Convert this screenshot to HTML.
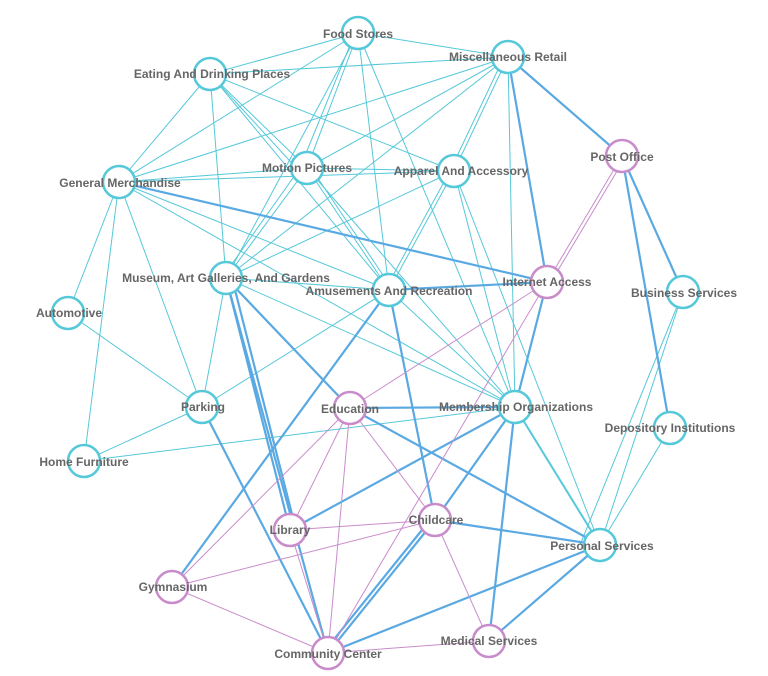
<!DOCTYPE html>
<html><head><meta charset="utf-8"><style>
html,body{margin:0;padding:0;background:#fff;}
svg{display:block;}
text{font-family:"Liberation Sans",sans-serif;font-weight:bold;font-size:12px;fill:#666;text-anchor:middle;}
.c{stroke:#55c8d9;stroke-width:1;}
.b{stroke:#5aa9e2;stroke-width:2.2;}
.p{stroke:#c98ccb;stroke-width:1;}
.nc{fill:#fff;stroke:#55c8d9;stroke-width:2.5;}
.np{fill:#fff;stroke:#c98ccb;stroke-width:2.5;}
</style></head><body>
<svg width="768" height="676" viewBox="0 0 768 676">
<g class="c">
<line x1="358" y1="33" x2="210" y2="74"/><line x1="358" y1="33" x2="508" y2="57"/><line x1="210" y1="74" x2="508" y2="57"/>
<line x1="358" y1="33" x2="119" y2="182"/><line x1="358" y1="33" x2="307" y2="168"/><line x1="355" y1="33" x2="300" y2="168"/>
<line x1="358" y1="33" x2="226" y2="278"/><line x1="358" y1="33" x2="389" y2="290"/><line x1="358" y1="33" x2="515" y2="407"/>
<line x1="210" y1="74" x2="119" y2="182"/><line x1="210" y1="74" x2="226" y2="278"/><line x1="210" y1="74" x2="307" y2="168"/><line x1="210" y1="74" x2="300" y2="172"/>
<line x1="210" y1="74" x2="389" y2="290"/><line x1="210" y1="74" x2="454" y2="171"/>
<line x1="508" y1="57" x2="119" y2="182"/><line x1="508" y1="57" x2="307" y2="168"/><line x1="508" y1="57" x2="226" y2="278"/>
<line x1="508" y1="57" x2="454" y2="171"/><line x1="504" y1="57" x2="450" y2="171"/><line x1="508" y1="57" x2="515" y2="407"/>
<line x1="119" y1="182" x2="307" y2="168"/><line x1="119" y1="182" x2="454" y2="171"/><line x1="119" y1="182" x2="68" y2="313"/>
<line x1="119" y1="182" x2="84" y2="461"/><line x1="119" y1="182" x2="202" y2="407"/><line x1="119" y1="182" x2="389" y2="290"/>
<line x1="119" y1="182" x2="515" y2="407"/>
<line x1="307" y1="168" x2="454" y2="171"/><line x1="307" y1="168" x2="226" y2="278"/><line x1="300" y1="168" x2="222" y2="278"/>
<line x1="307" y1="168" x2="389" y2="290"/><line x1="311" y1="168" x2="393" y2="290"/><line x1="307" y1="168" x2="515" y2="407"/>
<line x1="454" y1="171" x2="226" y2="278"/><line x1="454" y1="171" x2="389" y2="290"/><line x1="450" y1="171" x2="385" y2="290"/>
<line x1="454" y1="171" x2="515" y2="407"/><line x1="454" y1="171" x2="600" y2="545"/>
<line x1="226" y1="278" x2="389" y2="290"/><line x1="226" y1="278" x2="515" y2="407"/><line x1="226" y1="278" x2="202" y2="407"/>
<line x1="389" y1="290" x2="515" y2="407"/><line x1="389" y1="290" x2="202" y2="407"/>
<line x1="68" y1="313" x2="202" y2="407"/><line x1="202" y1="407" x2="84" y2="461"/><line x1="84" y1="461" x2="515" y2="407"/>
<line x1="683" y1="292" x2="600" y2="545"/><line x1="683" y1="292" x2="580" y2="545"/><line x1="670" y1="428" x2="600" y2="545"/>
<line x1="515" y1="407" x2="600" y2="545" style="stroke-width:2"/>
</g>
<g class="b">
<line x1="508" y1="57" x2="622" y2="156"/><line x1="508" y1="57" x2="547" y2="282"/><line x1="119" y1="182" x2="547" y2="282"/>
<line x1="622" y1="156" x2="683" y2="292"/><line x1="622" y1="156" x2="670" y2="428"/>
<line x1="389" y1="290" x2="547" y2="282"/><line x1="547" y1="282" x2="515" y2="407"/>
<line x1="226" y1="278" x2="350" y2="408"/><line x1="226" y1="278" x2="290" y2="530"/><line x1="232" y1="278" x2="296" y2="530"/>
<line x1="226" y1="278" x2="328" y2="653"/><line x1="389" y1="290" x2="172" y2="587"/><line x1="389" y1="290" x2="435" y2="520"/>
<line x1="202" y1="407" x2="328" y2="653"/>
<line x1="350" y1="408" x2="515" y2="407"/><line x1="350" y1="408" x2="600" y2="545"/>
<line x1="515" y1="407" x2="290" y2="530"/><line x1="515" y1="407" x2="435" y2="520"/><line x1="515" y1="407" x2="489" y2="641"/>
<line x1="435" y1="520" x2="600" y2="545"/><line x1="435" y1="520" x2="328" y2="653"/><line x1="430" y1="520" x2="323" y2="653"/>
<line x1="600" y1="545" x2="328" y2="653"/><line x1="600" y1="545" x2="489" y2="641"/>
</g>
<g class="p">
<line x1="547" y1="282" x2="622" y2="156"/><line x1="551" y1="282" x2="626" y2="156"/>
<line x1="547" y1="282" x2="350" y2="408"/><line x1="547" y1="282" x2="328" y2="653"/>
<line x1="350" y1="408" x2="290" y2="530"/><line x1="350" y1="408" x2="172" y2="587"/><line x1="350" y1="408" x2="328" y2="653"/>
<line x1="350" y1="408" x2="435" y2="520"/>
<line x1="290" y1="530" x2="435" y2="520"/><line x1="290" y1="530" x2="328" y2="653"/>
<line x1="435" y1="520" x2="172" y2="587"/><line x1="435" y1="520" x2="489" y2="641"/>
<line x1="172" y1="587" x2="328" y2="653"/><line x1="328" y1="653" x2="489" y2="641"/>
</g>
<g>
<circle class="nc" cx="358" cy="33" r="16"/><circle class="nc" cx="508" cy="57" r="16"/><circle class="nc" cx="210" cy="74" r="16"/>
<circle class="np" cx="622" cy="156" r="16"/><circle class="nc" cx="119" cy="182" r="16"/><circle class="nc" cx="307" cy="168" r="16"/>
<circle class="nc" cx="454" cy="171" r="16"/><circle class="nc" cx="226" cy="278" r="16"/><circle class="nc" cx="389" cy="290" r="16"/>
<circle class="np" cx="547" cy="282" r="16"/><circle class="nc" cx="683" cy="292" r="16"/><circle class="nc" cx="68" cy="313" r="16"/>
<circle class="nc" cx="202" cy="407" r="16"/><circle class="np" cx="350" cy="408" r="16"/><circle class="nc" cx="515" cy="407" r="16"/>
<circle class="nc" cx="670" cy="428" r="16"/><circle class="nc" cx="84" cy="461" r="16"/><circle class="np" cx="290" cy="530" r="16"/>
<circle class="np" cx="435" cy="520" r="16"/><circle class="nc" cx="600" cy="545" r="16"/><circle class="np" cx="172" cy="587" r="16"/>
<circle class="np" cx="328" cy="653" r="16"/><circle class="np" cx="489" cy="641" r="16"/>
</g>
<g>
<text x="358" y="38">Food Stores</text>
<text x="508" y="61">Miscellaneous Retail</text>
<text x="212" y="78">Eating And Drinking Places</text>
<text x="622" y="161">Post Office</text>
<text x="120" y="187">General Merchandise</text>
<text x="307" y="172">Motion Pictures</text>
<text x="461" y="175">Apparel And Accessory</text>
<text x="226" y="282">Museum, Art Galleries, And Gardens</text>
<text x="389" y="295">Amusements And Recreation</text>
<text x="547" y="286">Internet Access</text>
<text x="684" y="297">Business Services</text>
<text x="69" y="317">Automotive</text>
<text x="203" y="411">Parking</text>
<text x="350" y="413">Education</text>
<text x="516" y="411">Membership Organizations</text>
<text x="670" y="432">Depository Institutions</text>
<text x="84" y="466">Home Furniture</text>
<text x="290" y="534">Library</text>
<text x="436" y="524">Childcare</text>
<text x="602" y="550">Personal Services</text>
<text x="173" y="591">Gymnasium</text>
<text x="328" y="658">Community Center</text>
<text x="489" y="645">Medical Services</text>
</g>
</svg>
</body></html>
